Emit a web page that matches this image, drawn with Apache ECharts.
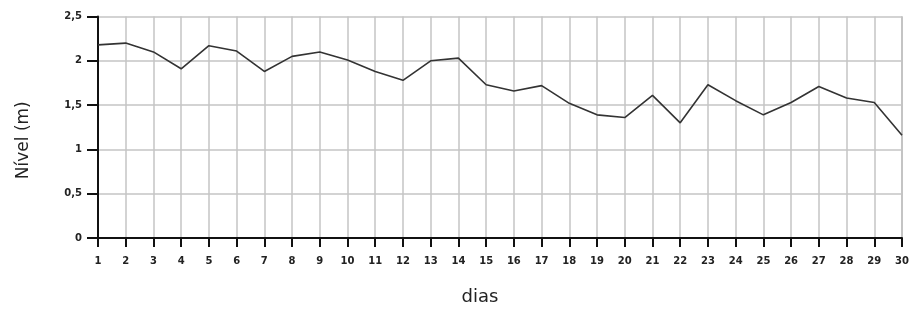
<!DOCTYPE html>
<html>
<head>
<meta charset="utf-8">
<script src="https://cdn.jsdelivr.net/npm/echarts@6/dist/echarts.min.js"></script>
<style>
  html, body { margin: 0; padding: 0; background: #fff; }
  #chart { width: 912px; height: 311px; }
</style>
</head>
<body>
<div id="chart"></div>
<script>
  // dias 1..30
  const dias = ['1', '2', '3', '4', '5', '6', '7', '8', '9', '10', '11', '12', '13', '14', '15',
    '16', '17', '18', '19', '20', '21', '22', '23', '24', '25', '26', '27', '28', '29', '30']
  // nível (m)
  const nivel = [2.18, 2.20, 2.10, 1.91, 2.17, 2.11, 1.88, 2.05, 2.10, 2.01, 1.88, 1.78, 2.00, 2.03, 1.73,
    1.66, 1.72, 1.52, 1.39, 1.36, 1.61, 1.30, 1.73, 1.55, 1.39, 1.53, 1.71, 1.58, 1.53, 1.16]

  const chart = echarts.init(document.getElementById('chart'))
  const labelFont = { fontFamily: 'DejaVu Sans', fontSize: 10, fontWeight: 'bold', color: '#222' }

  const option = {
    animation: false,
    grid: { left: 98, right: 10, top: 16.5, bottom: 71 },
    xAxis: {
      type: 'category',
      data: dias,
      boundaryGap: false,
      name: 'dias',
      nameLocation: 'middle',
      nameGap: 50,
      nameTextStyle: { fontFamily: 'DejaVu Sans', fontSize: 18, color: '#222', padding: [0, 40, 0, 0] },
      axisLine: { lineStyle: { color: '#111', width: 2 } },
      axisTick: { length: 9, lineStyle: { color: '#111', width: 2 } },
      axisLabel: Object.assign({ margin: 18 }, labelFont),
      splitLine: { show: true, lineStyle: { color: '#c4c4c4', width: 1.5 } }
    },
    yAxis: {
      type: 'value',
      min: 0,
      max: 2.5,
      interval: 0.5,
      name: 'Nível (m)',
      nameLocation: 'middle',
      nameGap: 66,
      nameTextStyle: { fontFamily: 'DejaVu Sans', fontSize: 17, color: '#222', padding: [0, 26, 0, 0] },
      axisLine: { show: true, lineStyle: { color: '#111', width: 2 } },
      axisTick: { show: true, length: 11, lineStyle: { color: '#111', width: 2 } },
      axisLabel: Object.assign({
        margin: 16,
        formatter: v => String(v).replace('.', ',')
      }, labelFont),
      splitLine: { show: true, lineStyle: { color: '#c4c4c4', width: 1.5 } }
    },
    series: [{
      type: 'line',
      data: nivel,
      symbol: 'none',
      lineStyle: { color: '#333', width: 1.6 }
    }]
  }

  chart.setOption(option)
  // right border of the plot area
  chart.setOption({
    graphic: [{
      type: 'line',
      shape: { x1: 902, y1: 16.5, x2: 902, y2: 240 },
      style: { stroke: '#c4c4c4', lineWidth: 2 }
    }]
  })
</script>
</body>
</html>
